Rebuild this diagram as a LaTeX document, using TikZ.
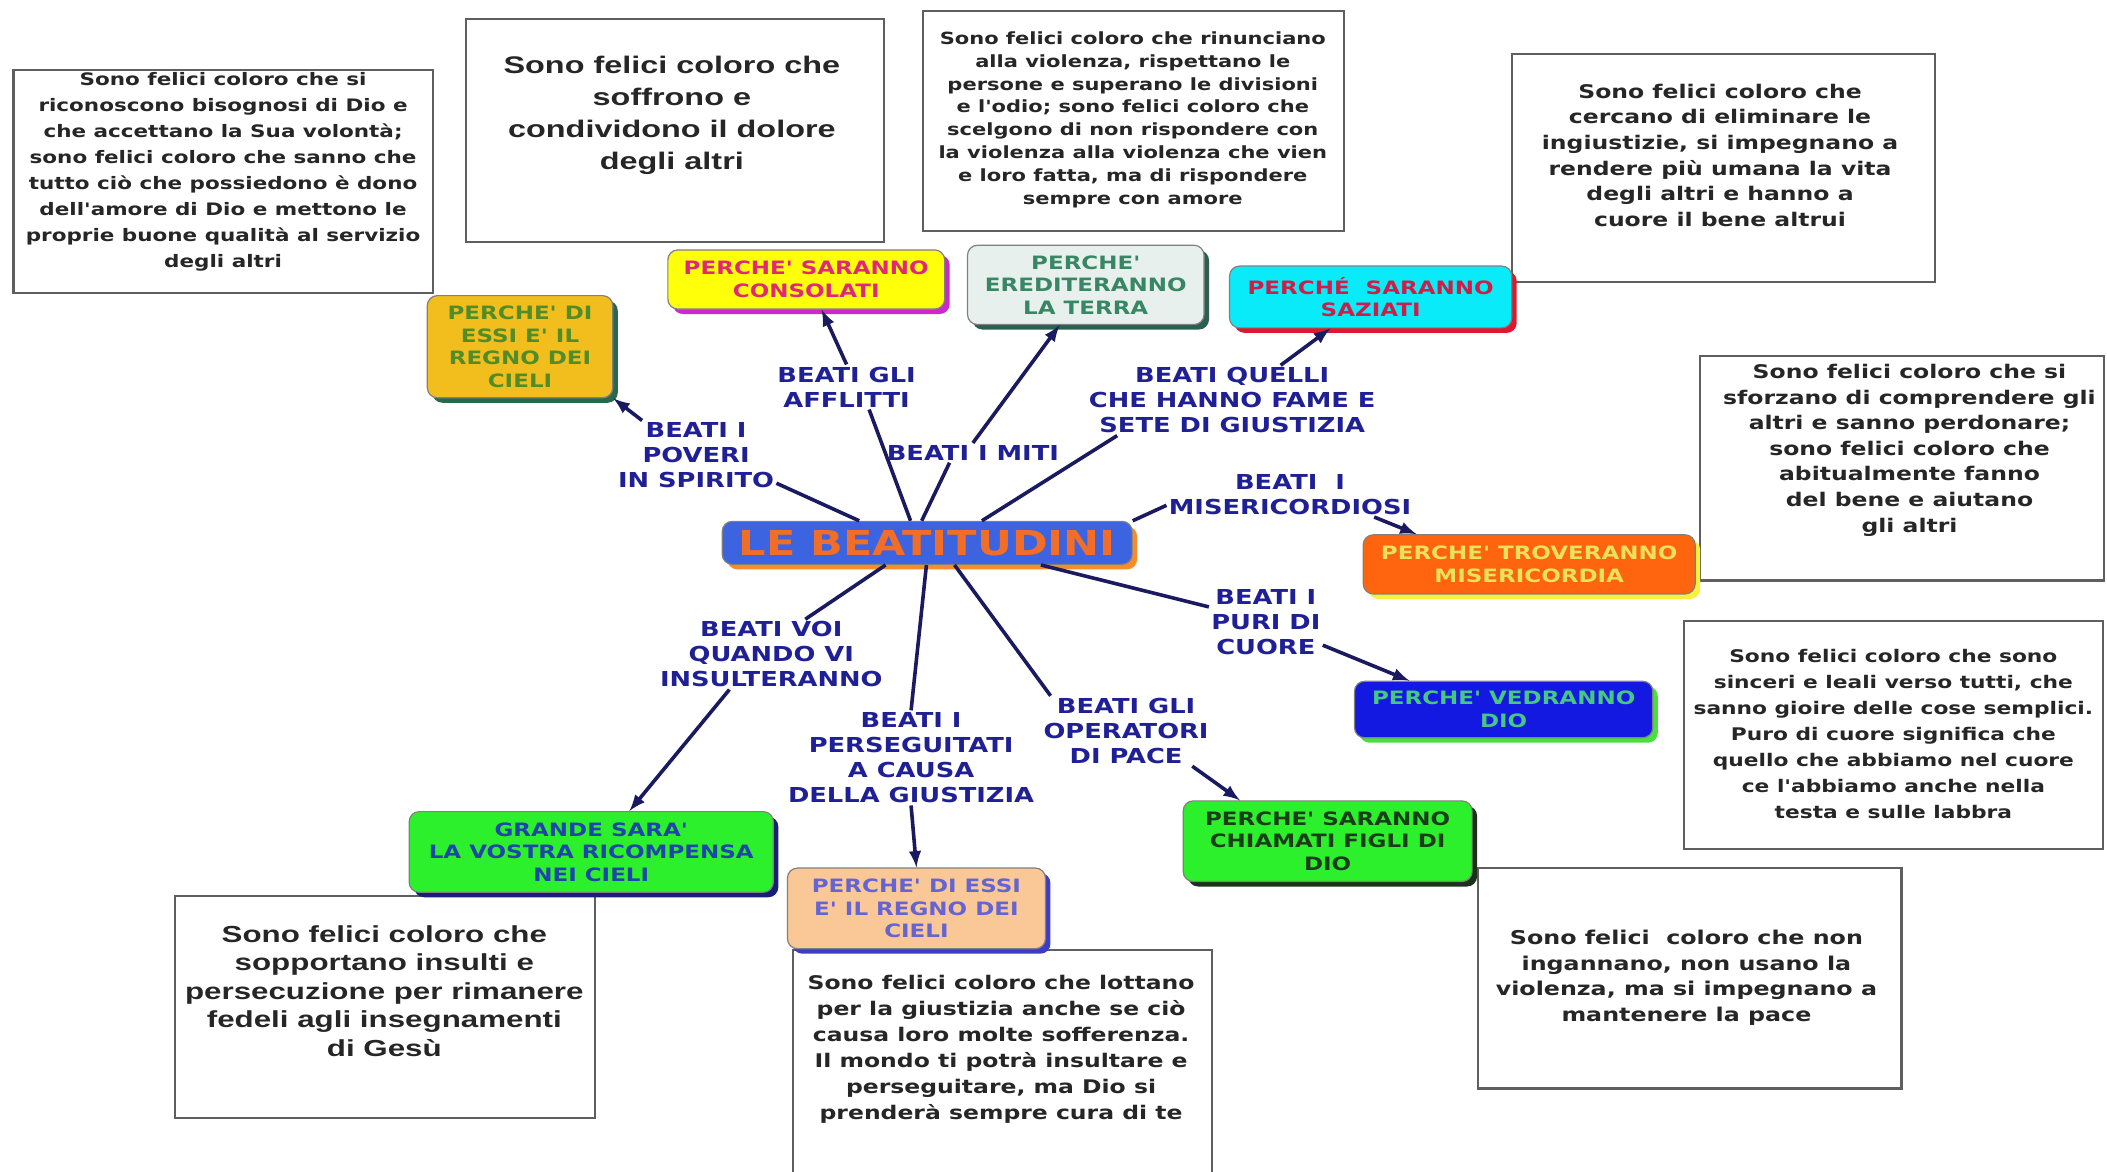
\documentclass[tikz,border=0pt]{standalone}
\usepackage{fontspec}
\usetikzlibrary{shadows}

\newfontfamily\vbold{DejaVu Sans Bold}[FakeStretch=1.25]
\newfontfamily\abold{Liberation Sans Bold}[FakeStretch=1.35]
\newcommand\pix{0.672pt}

\definecolor{lblblue}{RGB}{32,32,150}
\definecolor{wire}{RGB}{26,26,96}
\definecolor{notegray}{RGB}{95,95,95}
\definecolor{goldfill}{RGB}{242,190,30}
\definecolor{goldtext}{RGB}{80,140,40}
\definecolor{goldshadow}{RGB}{40,105,75}
\definecolor{yelfill}{RGB}{255,255,10}
\definecolor{pinktext}{RGB}{225,40,120}
\definecolor{magshadow}{RGB}{205,40,205}
\definecolor{terrafill}{RGB}{232,240,238}
\definecolor{terratext}{RGB}{55,135,100}
\definecolor{terrashadow}{RGB}{45,95,80}
\definecolor{cyanfill}{RGB}{10,235,250}
\definecolor{redtext}{RGB}{205,30,75}
\definecolor{redshadow}{RGB}{220,25,45}
\definecolor{ctrfill}{RGB}{60,100,225}
\definecolor{ctrtext}{RGB}{240,110,40}
\definecolor{ctrshadow}{RGB}{250,140,40}
\definecolor{orfill}{RGB}{255,100,15}
\definecolor{ortext}{RGB}{235,225,90}
\definecolor{orshadow}{RGB}{250,240,60}
\definecolor{bluefill}{RGB}{20,25,225}
\definecolor{bluetext}{RGB}{70,200,130}
\definecolor{blueshadow}{RGB}{70,225,60}
\definecolor{greenfill}{RGB}{45,240,45}
\definecolor{darktext}{RGB}{25,60,25}
\definecolor{darkshadow}{RGB}{25,50,25}
\definecolor{navytext}{RGB}{30,70,170}
\definecolor{navyshadow}{RGB}{25,30,120}
\definecolor{peachfill}{RGB}{250,200,150}
\definecolor{peachtext}{RGB}{100,100,210}
\definecolor{peachshadow}{RGB}{60,60,200}

\tikzset{
  beati/.style={text=lblblue, font=\vbold\fontsize{10.3}{12.5}\selectfont, align=center, inner sep=1pt},
  answer/.style={rounded corners=5pt, draw=black!50, line width=0.6pt, align=center, inner sep=2pt,
    font=\vbold\fontsize{9.2}{11.3}\selectfont},
  boxsize/.style 2 args={minimum width=#1*\pix, minimum height=#2*\pix},
  shadowcol/.style={drop shadow={shadow xshift=2.5pt, shadow yshift=-2.5pt, fill=#1, opacity=1}},
  note/.style={draw=notegray, line width=1.1pt},
  notetext/.style={align=center, text=black!85},
  link/.style={draw=wire, line width=1.8pt}
}

\begin{document}
\begin{tikzpicture}[x=0.672pt, y=-0.672pt]
        \useasboundingbox (0,0) rectangle (1568,872);

        % 1. White boxes with the explanations
        \node (nA) at (166,135) [note, boxsize={312}{166}] {};
        \node (tA) at (166,128) [notetext, font=\vbold\fontsize{8.6}{13}\selectfont] {Sono felici coloro che si\\riconoscono bisognosi  di Dio e\\che accettano la Sua volontà;\\sono felici coloro che sanno che\\tutto ciò che possiedono è dono\\dell'amore di Dio e mettono le\\proprie buone qualità al servizio\\degli altri};
        \node (nB) at (502.5,97) [note, boxsize={311}{166}] {};
        \node (tB) at (500,86) [notetext, font=\abold\fontsize{12}{16}\selectfont] {Sono felici coloro che\\soffrono e\\condividono il dolore\\degli altri};
        \node (nC) at (843.5,90) [note, boxsize={313}{164}] {};
        \node (tC) at (843,89) [notetext, font=\vbold\fontsize{8.4}{11.4}\selectfont] {Sono felici coloro che rinunciano\\alla violenza, rispettano le\\persone e superano le divisioni\\e l'odio; sono felici coloro che\\scelgono di non rispondere con\\la violenza alla violenza che vien\\e loro fatta, ma di rispondere\\sempre con amore};
        \node (nD) at (1282.5,125) [note, boxsize={315}{170}] {};
        \node (tD) at (1280,115.5) [notetext, font=\vbold\fontsize{9.4}{12.8}\selectfont] {Sono felici coloro che\\cercano di eliminare le\\ingiustizie, si impegnano a\\rendere più umana la vita\\degli altri e hanno a\\cuore il bene altrui};
        \node (nE) at (1415.5,348.5) [note, boxsize={301}{167}] {};
        \node (tE) at (1421,335) [notetext, font=\vbold\fontsize{9.4}{12.8}\selectfont] {Sono felici coloro che si\\sforzano di comprendere gli\\altri e sanno perdonare;\\sono felici coloro che\\abitualmente fanno\\del bene e aiutano\\gli altri};
        \node (nF) at (1409,547) [note, boxsize={312}{170}] {};
        \node (tF) at (1409,546) [notetext, font=\vbold\fontsize{8.7}{13}\selectfont] {Sono felici coloro che sono\\sinceri e leali  verso tutti, che\\sanno gioire delle cose semplici.\\Puro di cuore significa che\\quello che abbiamo nel cuore\\ce l'abbiamo anche nella\\testa e sulle labbra};
        \node (nG) at (1257.5,728) [note, boxsize={315}{164}] {};
        \node (tG) at (1255,727.5) [notetext, font=\vbold\fontsize{9.5}{12.8}\selectfont] {Sono felici~~coloro che non\\ingannano, non usano la\\violenza, ma si impegnano a\\mantenere la pace};
        \node (nH) at (286.5,749.5) [note, boxsize={313}{165}] {};
        \node (tH) at (286,737.5) [notetext, font=\abold\fontsize{11.6}{14.3}\selectfont] {Sono felici coloro che\\sopportano insulti e\\persecuzione per rimanere\\fedeli agli insegnamenti\\di Gesù};
        \node (nI) at (746,793.5) [note, boxsize={312}{173}] {};
        \node (tI) at (745,781) [notetext, font=\vbold\fontsize{9.4}{13}\selectfont] {Sono felici coloro che lottano\\per la giustizia anche se ciò\\causa loro molte sofferenza.\\Il mondo ti potrà insultare e\\perseguitare, ma Dio si\\prenderà sempre cura di te};

        % 2. Coloured boxes
        \node (r1) at (387,258) [answer, boxsize={138}{76}, fill=goldfill, text=goldtext, shadowcol=goldshadow] {PERCHE' DI\\ESSI E' IL\\REGNO DEI\\CIELI};
        \node (r2) at (600,208) [answer, boxsize={206}{44}, fill=yelfill, text=pinktext, shadowcol=magshadow] {PERCHE' SARANNO\\CONSOLATI};
        \node (r3) at (808,212) [answer, boxsize={176}{59}, fill=terrafill, text=terratext, shadowcol=terrashadow] {PERCHE'\\EREDITERANNO\\LA TERRA};
        \node (r4) at (1020,221) [answer, boxsize={210}{46}, fill=cyanfill, text=redtext, shadowcol=redshadow] {PERCHÉ~~SARANNO\\SAZIATI};
        \node (ctr) at (690,404) [answer, boxsize={305}{32}, fill=ctrfill, text=ctrtext, shadowcol=ctrshadow,
          font=\vbold\fontsize{17.2}{19}\selectfont] {LE BEATITUDINI};
        \node (r6) at (1138,420) [answer, boxsize={247}{44}, fill=orfill, text=ortext, shadowcol=orshadow] {PERCHE' TROVERANNO\\MISERICORDIA};
        \node (r7) at (1119,528) [answer, boxsize={222}{42}, fill=bluefill, text=bluetext, shadowcol=blueshadow] {PERCHE' VEDRANNO\\DIO};
        \node (r8) at (988,626) [answer, boxsize={215}{60}, fill=greenfill, text=darktext, shadowcol=darkshadow] {PERCHE' SARANNO\\CHIAMATI FIGLI DI\\DIO};
        \node (r9) at (440,634) [answer, boxsize={271}{60}, fill=greenfill, text=navytext, shadowcol=navyshadow] {GRANDE SARA'\\LA VOSTRA RICOMPENSA\\NEI CIELI};
        \node (r10) at (682,676) [answer, boxsize={192}{60}, fill=peachfill, text=peachtext, shadowcol=peachshadow] {PERCHE' DI ESSI\\E' IL REGNO DEI\\CIELI};

        % 3. Beatitudes
        \node (pov) at (518,339) [beati] {BEATI I\\POVERI\\IN SPIRITO};
        \node (aff) at (630,288) [beati] {BEATI GLI\\AFFLITTI};
        \node (mit) at (724,337) [beati] {BEATI I MITI};
        \node (quel) at (917,298) [beati] {BEATI QUELLI\\CHE HANNO FAME E\\SETE DI GIUSTIZIA};
        \node (mis) at (960,368) [beati] {BEATI~~I\\MISERICORDIOSI};
        \node (puri) at (942,463) [beati] {BEATI I\\PURI DI\\CUORE};
        \node (voi) at (574,487) [beati] {BEATI VOI\\QUANDO VI\\INSULTERANNO};
        \node (per) at (678,564) [beati] {BEATI I\\PERSEGUITATI\\A CAUSA\\DELLA GIUSTIZIA};
        \node (ope) at (838,544) [beati] {BEATI GLI\\OPERATORI\\DI PACE};

        % 4. From the centre to each beatitude
        \draw[link] (ctr.162) -- (pov.341);
        \draw[link] (ctr.127) -- (aff.315);
        \draw[link] (ctr.104) -- (mit.203);
        \draw[link] (ctr.22) -- (quel.197);
        \draw[link] (ctr.north east) -- (mis.185);
        \draw[link] (ctr.349) -- (puri.165);
        \draw[link] (ctr.208) -- (voi.46);
        \draw[link] (ctr.268) -- (per.north);
        \draw[link] (ctr.321) -- (ope.155);

        % 5. From each beatitude to its promise
        \draw[link,-latex] (pov.147) -- (r1.south east);
        \draw[link,-latex] (aff.north) -- (r2.297);
        \draw[link,-latex] (mit.north) -- (r3.237);
        \draw[link,-latex] (quel.36) -- (r4.218);
        \draw[link,-latex] (mis.345) -- (r6.165);
        \draw[link,-latex] (puri.338) -- (r7.163);
        \draw[link,-latex] (voi.220) -- (r9.47);
        \draw[link,-latex] (per.south) -- (r10.north);
        \draw[link,-latex] (ope.332) -- (r8.155);
\end{tikzpicture}
\end{document}
